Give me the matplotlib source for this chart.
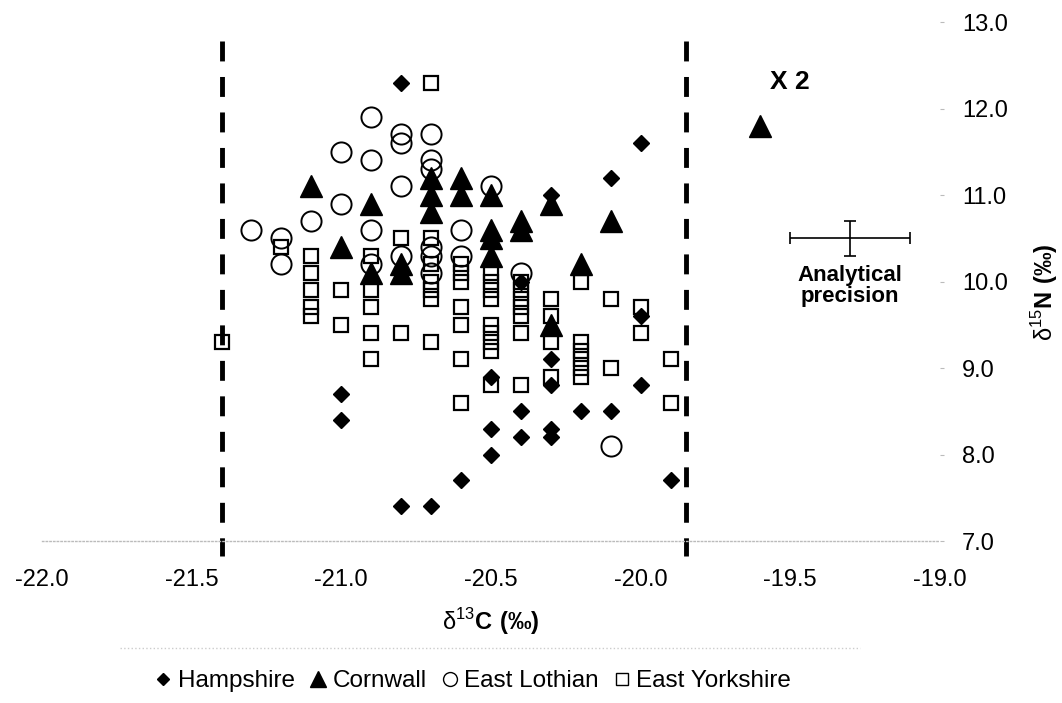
import matplotlib
matplotlib.use("Agg")
import matplotlib.pyplot as plt
from matplotlib.lines import Line2D

plt.rcParams['font.family'] = ['Liberation Sans', 'DejaVu Sans']
plt.rcParams['mathtext.fontset'] = 'custom'
plt.rcParams['mathtext.rm'] = 'Liberation Sans'
plt.rcParams['mathtext.bf'] = 'Liberation Sans:bold'

# d13C / d15N values
hamp_c = [-20.8, -20.0, -20.1, -20.3, -20.4, -20.0, -20.3, -20.5, -20.3, -20.0,
          -21.0, -20.4, -20.2, -20.1, -21.0, -20.5, -20.3, -20.4, -20.3, -20.5,
          -20.6, -19.9, -20.8, -20.7]
hamp_n = [12.3, 11.6, 11.2, 11.0, 10.0, 9.6, 9.1, 8.9, 8.8, 8.8,
          8.7, 8.5, 8.5, 8.5, 8.4, 8.3, 8.3, 8.2, 8.2, 8.0,
          7.7, 7.7, 7.4, 7.4]

corn_c = [-21.1, -20.9, -21.0, -20.9, -20.8, -20.8, -20.7, -20.7, -20.7, -20.6,
          -20.6, -20.5, -20.5, -20.5, -20.5, -20.4, -20.4, -20.3, -20.3, -20.2,
          -20.1, -19.6]
corn_n = [11.1, 10.9, 10.4, 10.1, 10.2, 10.1, 11.2, 11.0, 10.8, 11.2,
          11.0, 11.0, 10.6, 10.5, 10.3, 10.7, 10.6, 10.9, 9.5, 10.2,
          10.7, 11.8]

loth_c = [-21.3, -21.2, -21.2, -21.1, -21.0, -21.0, -20.9, -20.9, -20.9, -20.9,
          -20.8, -20.8, -20.8, -20.8, -20.7, -20.7, -20.7, -20.7, -20.7, -20.7,
          -20.6, -20.6, -20.5, -20.4, -20.1]
loth_n = [10.6, 10.5, 10.2, 10.7, 11.5, 10.9, 11.9, 11.4, 10.6, 10.2,
          11.7, 11.6, 11.1, 10.3, 11.7, 11.4, 11.3, 10.4, 10.3, 10.1,
          10.6, 10.3, 11.1, 10.1, 8.1]

york_c = [-21.4, -21.2,
          -21.1, -21.1, -21.1, -21.1, -21.1,
          -21.0, -21.0,
          -20.9, -20.9, -20.9, -20.9, -20.9,
          -20.8, -20.8,
          -20.7, -20.7, -20.7, -20.7, -20.7, -20.7, -20.7,
          -20.6, -20.6, -20.6, -20.6, -20.6, -20.6, -20.6,
          -20.5, -20.5, -20.5, -20.5, -20.5, -20.5, -20.5, -20.5, -20.5,
          -20.4, -20.4, -20.4, -20.4, -20.4, -20.4, -20.4,
          -20.3, -20.3, -20.3, -20.3,
          -20.2, -20.2, -20.2, -20.2, -20.2, -20.2,
          -20.1, -20.1,
          -20.0, -20.0,
          -19.9, -19.9]
york_n = [9.3, 10.4,
          10.3, 10.1, 9.9, 9.7, 9.6,
          9.9, 9.5,
          10.3, 9.9, 9.7, 9.4, 9.1,
          10.5, 9.4,
          12.3, 10.5, 10.2, 10.0, 9.9, 9.8, 9.3,
          10.2, 10.1, 10.0, 9.7, 9.5, 9.1, 8.6,
          10.1, 10.0, 9.9, 9.8, 9.5, 9.4, 9.3, 9.2, 8.8,
          10.0, 9.9, 9.8, 9.7, 9.6, 9.4, 8.8,
          9.8, 9.6, 9.3, 8.9,
          10.0, 9.3, 9.2, 9.1, 9.0, 8.9,
          9.8, 9.0,
          9.7, 9.4,
          9.1, 8.6]

bounds = [-21.4, -19.85]
bound_span = [12.78, 6.83]
x_ticks = [-22.0, -21.5, -21.0, -20.5, -20.0, -19.5, -19.0]
y_ticks = [7.0, 8.0, 9.0, 10.0, 11.0, 12.0, 13.0]

fig = plt.figure(figsize=(10.62, 7.03), dpi=100)
ax = fig.add_axes([0.0395, 0.2304, 0.8456, 0.7383])

ax.plot(york_c, york_n, 's', ms=10.5, mfc='none', mec='black', mew=1.6, label='East Yorkshire')
ax.plot(loth_c, loth_n, 'o', ms=14.5, mfc='none', mec='black', mew=1.4, label='East Lothian')
ax.plot(corn_c, corn_n, '^', ms=15.5, color='black', label='Cornwall')
ax.plot(hamp_c, hamp_n, 'D', ms=8, color='black', label='Hampshire')

# dashed limits, drawn top-down so the pattern starts with a dash at the top
for b in bounds:
    ax.plot([b, b], bound_span, color='black', lw=3.5, dashes=(4.1, 3.2),
            clip_on=False)

# analytical precision cross
ax.errorbar(-19.3, 10.5, xerr=0.2, yerr=0.2, color='black', lw=1.2,
            capsize=4, capthick=1.2)
ax.text(-19.3, 9.95, 'Analytical\nprecision', ha='center', va='center',
        fontsize=16, fontweight='bold', linespacing=1.0)
ax.text(-19.5, 12.31, 'X 2', ha='center', va='center', fontsize=19, fontweight='bold')

ax.set_xlim(-22, -19)
ax.set_ylim(7, 13)
ax.set_xticks(x_ticks)
ax.set_xticklabels(['%.1f' % v for v in x_ticks])
ax.set_yticks(y_ticks)
ax.set_yticklabels(['%.1f' % v for v in y_ticks])
ax.yaxis.tick_right()
ax.tick_params(axis='x', length=0, pad=20, labelsize=17)
ax.tick_params(axis='y', length=3, color='#bbbbbb', pad=13, labelsize=17)
for s in ['top', 'left', 'right']:
    ax.spines[s].set_visible(False)
ax.spines['bottom'].set_color('#bbbbbb')
ax.spines['bottom'].set_linestyle(':')
ax.spines['bottom'].set_linewidth(1)

fig.text(491 / 1062, 1 - 622 / 703, r'$\mathrm{\delta}^{13}\mathbf{C\ (‰)}$',
         ha='center', va='center', fontsize=17)
fig.text(1045 / 1062, 1 - 292 / 703, r'$\mathrm{\delta}^{15}\mathbf{N\ (‰)}$',
         ha='center', va='center', fontsize=17, rotation=90)

fig.add_artist(Line2D([120 / 1062, 860 / 1062], [1 - 648 / 703] * 2, color='#cccccc',
                      lw=1, ls=':'))

handles = [
    Line2D([], [], ls='none', marker='D', ms=6.5, color='black'),
    Line2D([], [], ls='none', marker='^', ms=11, color='black'),
    Line2D([], [], ls='none', marker='o', ms=10, mfc='none', mec='black', mew=1),
    Line2D([], [], ls='none', marker='s', ms=8.5, mfc='none', mec='black', mew=1),
]
fig.legend(handles, ['Hampshire', 'Cornwall', 'East Lothian', 'East Yorkshire'],
           loc='center', bbox_to_anchor=(473 / 1062, 1 - 681 / 703), ncol=4,
           frameon=False, fontsize=17.5, handlelength=0.7, handletextpad=0.25,
           columnspacing=0.6)

fig.savefig('out.png', dpi=100)
